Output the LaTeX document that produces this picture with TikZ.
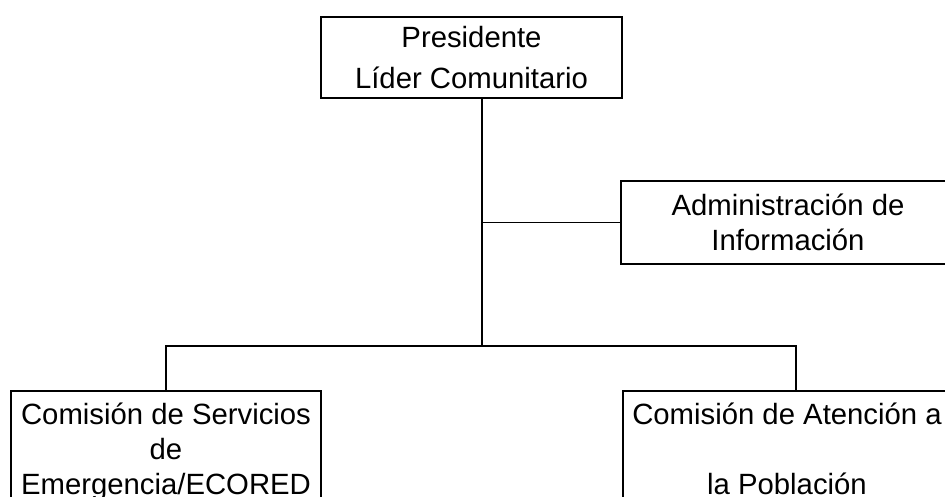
\documentclass[tikz,border=0pt]{standalone}
\usepackage{fontspec}
\setmainfont{Liberation Sans}
\usepackage{tikz}
\usetikzlibrary{positioning}

\begin{document}
\begin{tikzpicture}[x=1pt,y=-1pt,
  cuadro/.style={draw,line width=2pt,align=center,inner sep=0pt,font=\fontsize{29.3}{35}\selectfont},
  linea/.style={line width=1.6pt}]
\useasboundingbox (0,0) rectangle (945,496);
\clip (0,0) rectangle (945,496);
\node[cuadro,minimum width=301pt,minimum height=81pt] (pres) at (471.5,57.5)
{Presidente\\[6pt]Líder Comunitario};
\node[cuadro,minimum width=334pt,minimum height=83pt] (admin) at (788,222.5)
{Administración de\\Información};
\node[cuadro,minimum width=310pt,minimum height=122pt] (servicios) at (166,452)
{Comisión de Servicios\\de\\Emergencia/ECORED};
\node[cuadro,minimum width=328pt,minimum height=116pt] (atencion) at (787,449)
{Comisión de Atención a\\ \mbox{}\\la Población};
\coordinate (bus) at (482,346);
\draw[linea] (pres.south -| bus) -- (bus);
\draw[linea] (admin.west) -- (admin.west -| bus);
\draw[linea] (servicios.north) |- (bus) -| ([xshift=9pt]atencion.north);
\end{tikzpicture}
\end{document}
